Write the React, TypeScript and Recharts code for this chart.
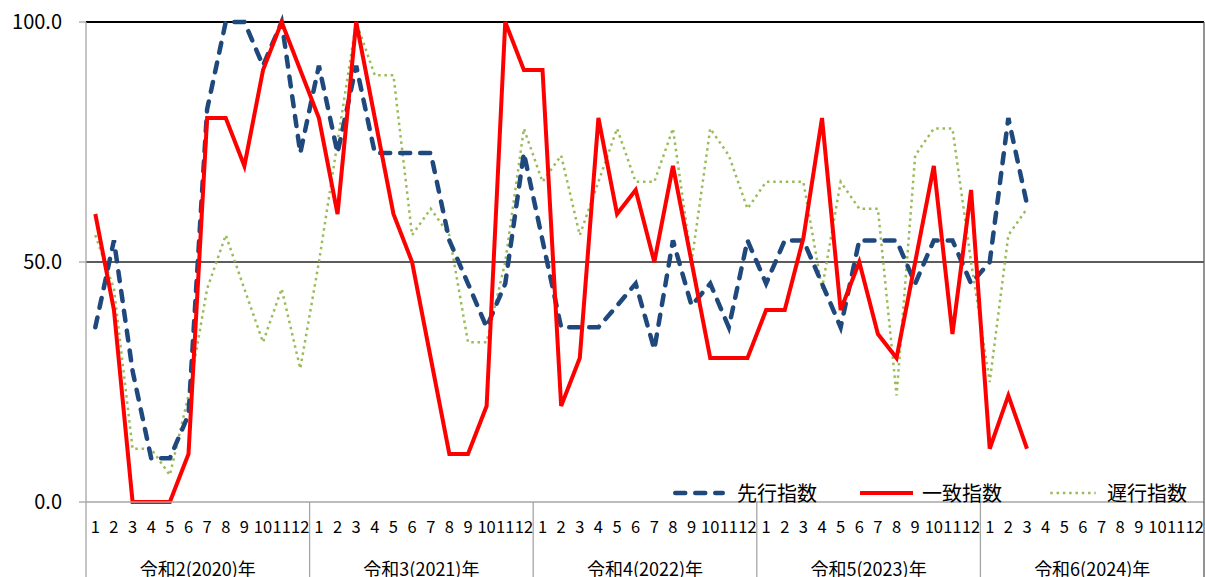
import { LineChart, Line, XAxis, YAxis, ReferenceLine, Legend } from 'recharts'

// 景気動向指数 (DI) 令和2年1月〜令和6年3月
const years = ['令和2(2020)年', '令和3(2021)年', '令和4(2022)年', '令和5(2023)年', '令和6(2024)年']
const months = [1, 2, 3, 4, 5, 6, 7, 8, 9, 10, 11, 12]

const leading = [
  36.4, 54.5, 27.3, 9.1, 9.1, 18.2, 81.8, 100, 100, 90.9, 100, 72.7,
  90.9, 72.7, 90.9, 72.7, 72.7, 72.7, 72.7, 54.5, 45.5, 36.4, 45.5, 72.7,
  54.5, 36.4, 36.4, 36.4, 40.9, 45.5, 31.8, 54.5, 40.9, 45.5, 36.4, 54.5,
  45.5, 54.5, 54.5, 45.5, 36.4, 54.5, 54.5, 54.5, 45.5, 54.5, 54.5, 45.5,
  50, 80, 62,
]
const coincident = [
  60, 40, 0, 0, 0, 10, 80, 80, 70, 90, 100, 90,
  80, 60, 100, 80, 60, 50, 30, 10, 10, 20, 100, 90,
  90, 20, 30, 80, 60, 65, 50, 70, 50, 30, 30, 30,
  40, 40, 55, 80, 40, 50, 35, 30, 50, 70, 35, 65,
  11.1, 22.2, 11.1,
]
const lagging = [
  55.6, 44.4, 11.1, 11.1, 5.6, 22.2, 44.4, 55.6, 44.4, 33.3, 44.4, 27.8,
  50, 75, 100, 88.9, 88.9, 55.6, 61.1, 55.6, 33.3, 33.3, 50, 77.8,
  66.7, 72.2, 55.6, 66.7, 77.8, 66.7, 66.7, 77.8, 50, 77.8, 72.2, 61.1,
  66.7, 66.7, 66.7, 44.4, 66.7, 61.1, 61.1, 22.2, 72.2, 77.8, 77.8, 50,
  25, 55.6, 61.1,
]
const yTicks = [0, 50, 100]

const W = 1205
const H = 577
const LEFT = 86
const RIGHT = 1
const TOP = 22
const PLOT_BOTTOM = 502
const N = years.length * months.length
const STEP = (W - LEFT - RIGHT) / N
const FONT = "'Noto Sans CJK JP', 'Noto Sans', sans-serif"

const data = years.flatMap((year, yi) =>
  months.map((month, mi) => {
    const i = yi * 12 + mi
    return {
      idx: i,
      month,
      year,
      leading: leading[i] ?? null,
      coincident: coincident[i] ?? null,
      lagging: lagging[i] ?? null,
    }
  })
)

const monthTicks = data.map((d) => d.idx)
const yearTicks = years.map((_, yi) => yi * 12 + 5.5)

function MonthTick(props: any) {
  const { x, y, payload } = props
  const i = payload.value as number
  const left = x - STEP / 2
  const right = x + STEP / 2
  return (
    <g>
      {i % 12 === 0 && <line x1={left} x2={left} y1={PLOT_BOTTOM} y2={H} stroke="#A6A6A6" strokeWidth={1.3} />}
      {i === N - 1 && <line x1={right} x2={right} y1={TOP} y2={H} stroke="#595959" strokeWidth={1.3} />}
      <text x={x} y={y + 31} textAnchor="middle" fontSize={16.5} fill="#000" fontFamily={FONT}>
        {data[i].month}
      </text>
    </g>
  )
}

function YearTick(props: any) {
  const { x, y, payload } = props
  const yi = Math.floor((payload.value as number) / 12)
  return (
    <text x={x} y={y + 34} textAnchor="middle" fontSize={18} fill="#000" fontFamily={FONT}>
      {years[yi]}
    </text>
  )
}

const legendItems = [
  { name: '先行指数', color: '#1F497D', dash: '10 10', width: 4.5, cap: 'round', sample: 54, gapText: 11, gapNext: 40 },
  { name: '一致指数', color: '#FF0000', dash: undefined, width: 4, cap: 'butt', sample: 59, gapText: 6, gapNext: 46 },
  { name: '遅行指数', color: '#9BBB59', dash: '2.5 3.8', width: 2.5, cap: 'butt', sample: 50, gapText: 9, gapNext: 0 },
]

function ChartLegend() {
  return (
    <div style={{ display: 'flex', alignItems: 'center', fontFamily: FONT, fontSize: 20, color: '#000', whiteSpace: 'nowrap' }}>
      {legendItems.map((it) => (
        <div key={it.name} style={{ display: 'flex', alignItems: 'center', marginRight: it.gapNext }}>
          <svg width={it.sample} height={10} style={{ marginRight: it.gapText }}>
            <line
              x1={it.width / 2 + 1}
              x2={it.sample - it.width / 2 - 1}
              y1={5}
              y2={5}
              stroke={it.color}
              strokeWidth={it.width}
              strokeDasharray={it.dash}
              strokeLinecap={it.cap as any}
            />
          </svg>
          <span>{it.name}</span>
        </div>
      ))}
    </div>
  )
}

export default function App() {
  return (
    <div style={{ position: 'absolute', left: 0, top: 0, width: W, height: H, background: '#fff' }}>
      <LineChart width={W} height={H} data={data} margin={{ top: TOP, right: RIGHT, bottom: 0, left: 0 }}>
        <XAxis
          dataKey="idx"
          type="number"
          domain={[-0.5, N - 0.5]}
          ticks={monthTicks}
          interval={0}
          height={40}
          tickSize={0}
          tickMargin={0}
          tickLine={false}
          axisLine={{ stroke: '#A6A6A6', strokeWidth: 1.5 }}
          tick={<MonthTick />}
        />
        <XAxis
          xAxisId="year"
          dataKey="idx"
          type="number"
          domain={[-0.5, N - 0.5]}
          ticks={yearTicks}
          interval={0}
          height={35}
          tickSize={0}
          tickMargin={0}
          tickLine={false}
          axisLine={false}
          tick={<YearTick />}
        />
        <YAxis
          domain={[0, 100]}
          ticks={yTicks}
          width={LEFT}
          tickSize={7}
          tickMargin={17}
          interval={0}
          axisLine={{ stroke: '#A6A6A6', strokeWidth: 1.3 }}
          tickLine={{ stroke: '#A6A6A6', strokeWidth: 1.3 }}
          tick={{ fontSize: 20, fill: '#000', fontFamily: FONT }}
          tickFormatter={(v: number) => v.toFixed(1)}
        />
        <ReferenceLine y={50} stroke="#262626" strokeWidth={1.4} />
        <ReferenceLine y={100} stroke="#000" strokeWidth={2.2} />
        <Line
          dataKey="lagging"
          name="遅行指数"
          stroke="#9BBB59"
          strokeWidth={2.5}
          strokeDasharray="2.5 3.8"
          dot={false}
          isAnimationActive={false}
        />
        <Line
          dataKey="leading"
          name="先行指数"
          stroke="#1F497D"
          strokeWidth={4.5}
          strokeDasharray="10 10"
          strokeLinecap="round"
          dot={false}
          isAnimationActive={false}
        />
        <Line
          dataKey="coincident"
          name="一致指数"
          stroke="#FF0000"
          strokeWidth={4}
          dot={false}
          isAnimationActive={false}
        />
        <Legend
          layout="vertical"
          verticalAlign="middle"
          align="center"
          content={<ChartLegend />}
          wrapperStyle={{ left: 672, top: 478, width: 530 }}
        />
      </LineChart>
    </div>
  )
}
